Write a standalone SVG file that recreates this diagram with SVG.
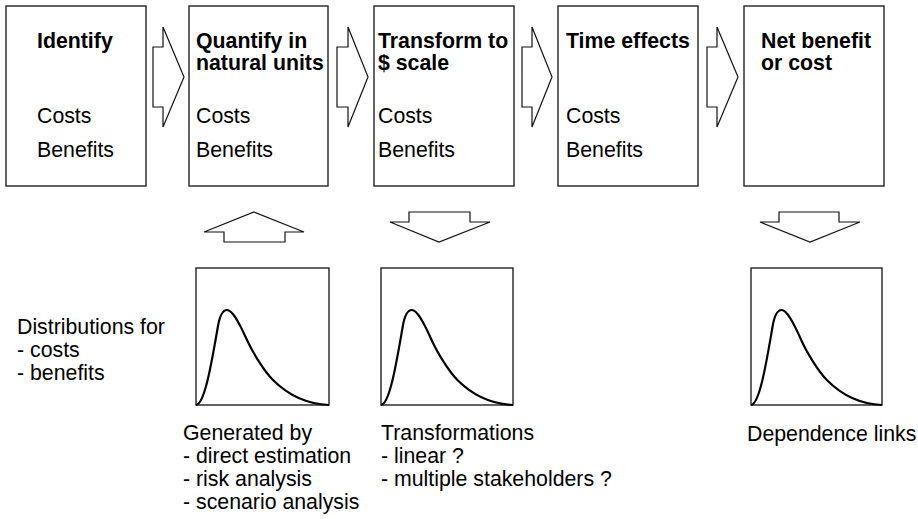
<svg xmlns="http://www.w3.org/2000/svg" width="918" height="519" viewBox="0 0 918 519">
<style>
.box{fill:#fff;stroke:#222;stroke-width:1.4}
.arr{fill:#fff;stroke:#111;stroke-width:1.2;stroke-linejoin:miter}
.curve{fill:none;stroke:#000;stroke-width:2.2}
text{font-family:"Liberation Sans",Arial,sans-serif;font-size:21.3px;fill:#000}
.b{font-weight:bold}
</style>
<defs>
<path id="dist" d="M0,137 C9,136 16,92 22,58 C23.8,47.8 27,42 31,42 C36,42 42,52 51,72 C56.4,84 68,103 77,112 C90.5,125.5 110,136 133,137"/>
</defs>
<rect width="918" height="519" fill="#fff"/>
<g id="connectors">
<polygon class="arr" points="153,47 163,47 163,27 184,77 163,127 163,107 153,107"/>
<polygon class="arr" points="337,47 348,47 348,27 368,77 348,127 348,107 337,107"/>
<polygon class="arr" points="522,47 532,47 532,27 552,77 532,127 532,107 522,107"/>
<polygon class="arr" points="707,47 717,47 717,27 738,77 717,127 717,107 707,107"/>
<polygon class="arr" points="254,212 304,232 285,232 285,242 224,242 224,232 204,232"/>
<polygon class="arr" points="409,212 470,212 470,222 490,222 439,242 390,222 409,222"/>
<polygon class="arr" points="779,212 839,212 839,222 860,222 810,242 760,222 779,222"/>
</g>
<g id="identify">
<rect class="box" x="6" y="6" width="140" height="180"/>
<text class="b" x="37" y="47.5">Identify</text>
<text x="37" y="122.5">Costs</text>
<text x="37" y="156.5">Benefits</text>
</g>
<g id="quantify">
<rect class="box" x="189" y="6" width="139" height="180"/>
<text class="b" x="196" y="47.5">Quantify in</text>
<text class="b" x="196" y="69.5">natural units</text>
<text x="196" y="122.5">Costs</text>
<text x="196" y="156.5">Benefits</text>
</g>
<g id="transform">
<rect class="box" x="374" y="6" width="140" height="180"/>
<text class="b" x="378" y="47.5">Transform to</text>
<text class="b" x="378" y="69.5">$ scale</text>
<text x="378" y="122.5">Costs</text>
<text x="378" y="156.5">Benefits</text>
</g>
<g id="time">
<rect class="box" x="558" y="6" width="140" height="180"/>
<text class="b" x="566" y="47.5">Time effects</text>
<text x="566" y="122.5">Costs</text>
<text x="566" y="156.5">Benefits</text>
</g>
<g id="net">
<rect class="box" x="744" y="6" width="140" height="180"/>
<text class="b" x="761" y="47.5">Net benefit</text>
<text class="b" x="761" y="69.5">or cost</text>
</g>
<g id="distlabel">
<text x="17" y="333.5">Distributions for</text>
<text x="17" y="356.5">- costs</text>
<text x="17" y="379.5">- benefits</text>
</g>
<g id="distA">
<rect class="box" x="196" y="268" width="133" height="137"/>
<use href="#dist" class="curve" transform="translate(196,268)"/>
<text x="183" y="439.5">Generated by</text>
<text x="183" y="462.8">- direct estimation</text>
<text x="183" y="486.1">- risk analysis</text>
<text x="183" y="509.4">- scenario analysis</text>
</g>
<g id="distB">
<rect class="box" x="381" y="268" width="132" height="137"/>
<use href="#dist" class="curve" transform="translate(381,268) scale(0.9925,1)"/>
<text x="381" y="439.5">Transformations</text>
<text x="381" y="462.8">- linear ?</text>
<text x="381" y="486.1">- multiple stakeholders ?</text>
</g>
<g id="distC">
<rect class="box" x="751" y="268" width="131" height="137"/>
<use href="#dist" class="curve" transform="translate(751,268) scale(0.985,1)"/>
<text x="747" y="440.5">Dependence links</text>
</g>
</svg>
